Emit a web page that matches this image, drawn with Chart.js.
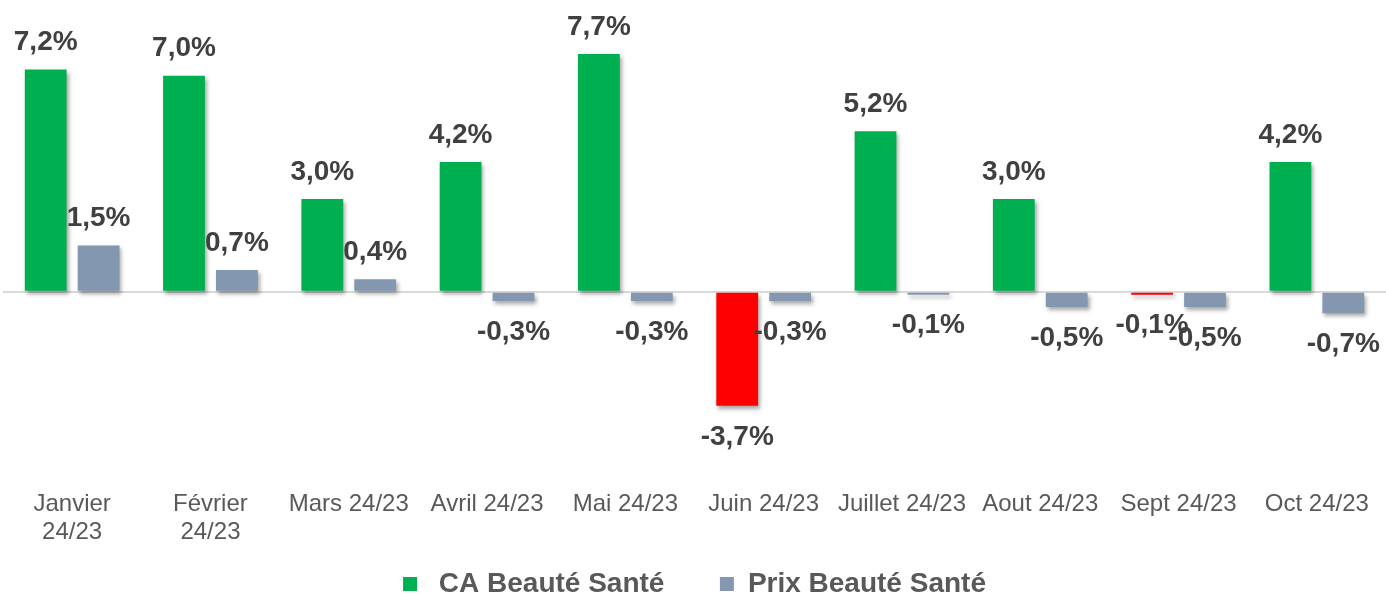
<!doctype html>
<html>
    <head>
        <meta charset="utf-8" />
        <title>CA et Prix Beauté Santé</title>
        <script src="https://cdn.jsdelivr.net/npm/chart.js"></script>
        <style>
            html,
            body {
                margin: 0;
                padding: 0;
                background: #ffffff;
            }
            #wrap {
                width: 1386px;
                height: 595px;
            }
        </style>
    </head>
    <body>
        <div id="wrap"><canvas id="beauteChart"></canvas></div>
        <script>
            // Evolution mensuelle 24/23
            const months = [
                ["Janvier", "24/23"],
                ["Février", "24/23"],
                "Mars 24/23",
                "Avril 24/23",
                "Mai 24/23",
                "Juin 24/23",
                "Juillet 24/23",
                "Aout 24/23",
                "Sept 24/23",
                "Oct 24/23",
            ];
            const caValues = [7.2, 7.0, 3.0, 4.2, 7.7, -3.7, 5.2, 3.0, -0.1, 4.2];
            const prixValues = [1.5, 0.7, 0.4, -0.3, -0.3, -0.3, -0.1, -0.5, -0.5, -0.7];

            const green = "#00b050";
            const red = "#ff0000";
            const slate = "#8497b0";
            const FONT = "'Liberation Sans', Arial, sans-serif";

            const fmt = (v) => v.toFixed(1).replace(".", ",") + "%";

            // drop shadow under the bars, like the office export
            const barShadow = {
                id: "barShadow",
                beforeDatasetsDraw(chart) {
                    const c = chart.ctx;
                    c.save();
                    c.shadowColor = "rgba(0, 0, 0, 0.35)";
                    c.shadowBlur = 4;
                    c.shadowOffsetX = 2;
                    c.shadowOffsetY = 3;
                },
                afterDatasetsDraw(chart) {
                    chart.ctx.restore();
                },
            };

            // value labels above / below each bar
            const valueLabels = {
                id: "valueLabels",
                afterDraw(chart) {
                    const c = chart.ctx;
                    c.save();
                    c.font = "bold 28px " + FONT;
                    c.fillStyle = "#404040";
                    c.textAlign = "center";
                    c.textBaseline = "middle";
                    chart.data.datasets.forEach((ds, i) => {
                        chart.getDatasetMeta(i).data.forEach((bar, j) => {
                            const v = ds.data[j];
                            const y = v < 0 ? bar.y + 31 : bar.y - 27;
                            c.fillText(fmt(v), bar.x, y);
                        });
                    });
                    c.restore();
                },
            };

            const ctx = document.getElementById("beauteChart").getContext("2d");
            const chart = new Chart(ctx, {
                type: "bar",
                data: {
                    labels: months,
                    datasets: [
                        {
                            label: "CA Beauté Santé",
                            data: caValues,
                            backgroundColor: (c) => (c.raw < 0 ? red : green),
                            categoryPercentage: 0.765,
                            barPercentage: 0.79,
                        },
                        {
                            label: "Prix Beauté Santé",
                            data: prixValues,
                            backgroundColor: slate,
                            categoryPercentage: 0.765,
                            barPercentage: 0.79,
                        },
                    ],
                },
                options: {
                    responsive: true,
                    maintainAspectRatio: false,
                    animation: false,
                    layout: {
                        padding: { left: 3, right: 0, top: 14, bottom: -13 },
                    },
                    scales: {
                        x: {
                            grid: { display: false },
                            border: { display: false },
                            ticks: {
                                color: "#595959",
                                font: { family: FONT, size: 24, lineHeight: 1.15 },
                                maxRotation: 0,
                                autoSkip: false,
                                padding: 6,
                            },
                            afterFit(scale) {
                                scale.height += 17;
                            },
                        },
                        y: {
                            min: -6,
                            max: 9,
                            ticks: { display: false, stepSize: 1 },
                            border: { display: false },
                            grid: {
                                drawTicks: false,
                                lineWidth: 2,
                                color: (c) =>
                                    c.tick && c.tick.value === 0
                                        ? "#d9d9d9"
                                        : "rgba(0,0,0,0)",
                            },
                        },
                    },
                    plugins: {
                        tooltip: { enabled: false },
                        legend: {
                            position: "bottom",
                            labels: {
                                color: "#595959",
                                boxWidth: 14,
                                boxHeight: 14,
                                padding: 1,
                                font: { family: FONT, size: 28, weight: "bold" },
                                generateLabels(chart) {
                                    const items =
                                        Chart.defaults.plugins.legend.labels.generateLabels(chart);
                                    items[0].text = " " + items[0].text + "       ";
                                    items.forEach((it) => {
                                        it.lineWidth = 0;
                                    });
                                    return items;
                                },
                            },
                        },
                    },
                },
                plugins: [barShadow, valueLabels],
            });
        </script>
    </body>
</html>
